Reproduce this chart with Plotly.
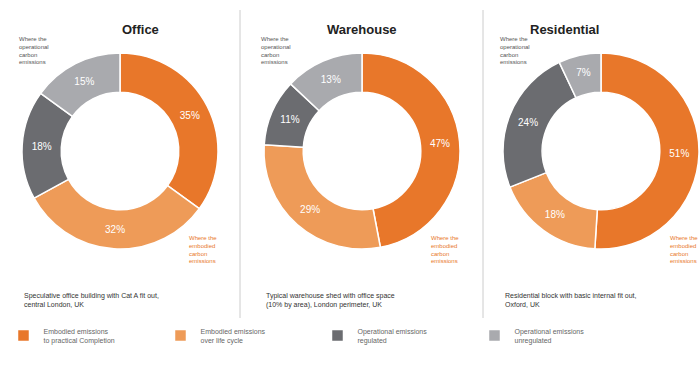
import plotly.graph_objects as go

categories = ["Embodied emissions<br>to practical Completion",
              "Embodied emissions<br>over life cycle",
              "Operational emissions<br>regulated",
              "Operational emissions<br>unregulated"]
titles = ["Office", "Warehouse", "Residential"]
office_values = [35, 32, 18, 15]
warehouse_values = [47, 29, 11, 13]
residential_values = [51, 18, 24, 7]
captions = ["Speculative office building with Cat A fit out,<br>central London, UK",
            "Typical warehouse shed with office space<br>(10% by area), London perimeter, UK",
            "Residential block with basic internal fit out,<br>Oxford, UK"]
colors = ["#E8772A", "#EE9B58", "#6B6C70", "#A9AAAE"]

W, H = 699, 379
centers = [(120, 151), (362, 151), (601, 151)]
R = 98

fig = go.Figure()
for i, vals in enumerate([office_values, warehouse_values, residential_values]):
    cx, cy = centers[i]
    cyb = H - cy
    fig.add_trace(go.Pie(
        labels=categories, values=vals, sort=False, direction="clockwise",
        rotation=0, hole=0.6,
        text=[f"{v}%" for v in vals], textinfo="text", textposition="inside",
        insidetextorientation="horizontal",
        textfont=dict(color="white", size=10, family="Arial"),
        marker=dict(colors=colors, line=dict(color="white", width=1.5)),
        domain=dict(x=[max(0, (cx - R) / W), min(1, (cx + R) / W)],
                    y=[(cyb - R) / H, (cyb + R) / H]),
        showlegend=(i == 0), hoverinfo="label+percent",
    ))
    fig.add_annotation(x=cx / W, y=1 - 20 / H, xref="paper", yref="paper",
                       text=f"<b>{titles[i]}</b>", showarrow=False,
                       font=dict(size=13, color="#222", family="Arial"))
    fig.add_annotation(x=(cx - 103) / W, y=1 - 34 / H, xref="paper", yref="paper",
                       xanchor="left", yanchor="top", align="left",
                       text="Where the<br>operational<br>carbon<br>emissions",
                       showarrow=False, font=dict(size=6, color="#555", family="Arial"))
    fig.add_annotation(x=min((cx + 67) / W, 0.96), y=1 - 233 / H, xref="paper", yref="paper",
                       xanchor="left", yanchor="top", align="left",
                       text="Where the<br>embodied<br>carbon<br>emissions",
                       showarrow=False, font=dict(size=6, color="#E8772A", family="Arial"))
    fig.add_annotation(x=(cx - 98) / W, y=1 - 290 / H, xref="paper", yref="paper",
                       xanchor="left", yanchor="top", align="left",
                       text=captions[i], showarrow=False,
                       font=dict(size=7, color="#333", family="Arial"))

for x in [240, 483]:
    fig.add_shape(type="line", xref="paper", yref="paper",
                  x0=x / W, x1=x / W, y0=1 - 10 / H, y1=1 - 318 / H,
                  line=dict(color="#cccccc", width=1))

fig.update_layout(
    width=W, height=H, margin=dict(l=0, r=0, t=0, b=0),
    paper_bgcolor="white", plot_bgcolor="white",
    legend=dict(orientation="h", x=0.005, y=1 - 320 / H, xanchor="left", yanchor="top",
                entrywidth=112, entrywidthmode="pixels", traceorder="normal",
                font=dict(size=7, color="#666", family="Arial")),
)
fig.write_html("out.html")
